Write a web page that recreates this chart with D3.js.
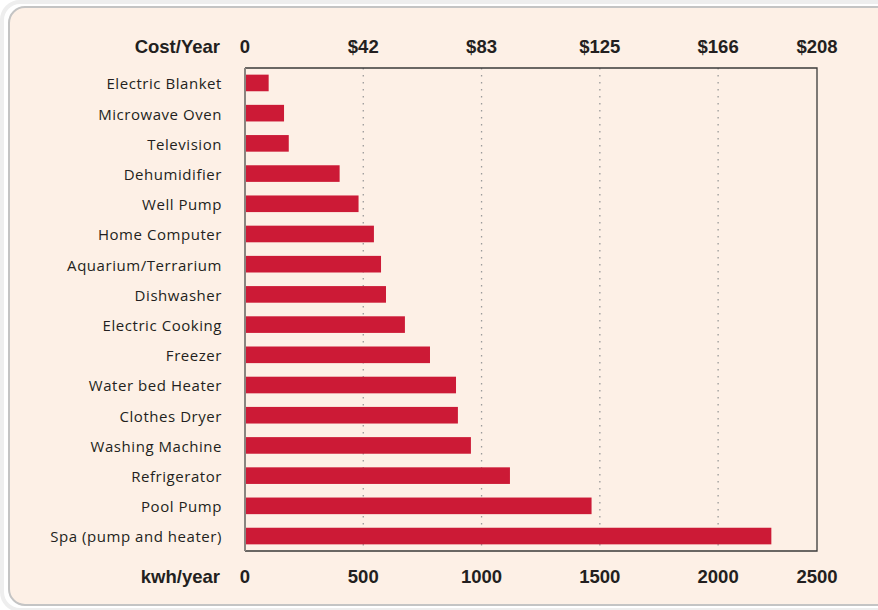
<!DOCTYPE html>
<html>
<head>
<meta charset="utf-8">
<script src="https://cdn.jsdelivr.net/npm/d3@7"></script>
<style>
  html, body { margin: 0; padding: 0; background: #ffffff; }
  svg { display: block; }
</style>
</head>
<body>
<svg id="chart" width="878" height="610"></svg>
<script>
// ---- data ----
const categories = [
  "Electric Blanket", "Microwave Oven", "Television", "Dehumidifier", "Well Pump",
  "Home Computer", "Aquarium/Terrarium", "Dishwasher", "Electric Cooking", "Freezer",
  "Water bed Heater", "Clothes Dryer", "Washing Machine", "Refrigerator", "Pool Pump",
  "Spa (pump and heater)"
];
const kwhPerYear = [100, 165, 185, 400, 480, 545, 575, 596, 676, 782, 892, 900, 955, 1120, 1465, 2225];
const kwhTicks = [0, 500, 1000, 1500, 2000, 2500];
const kwhTickLabels = ["0", "500", "1000", "1500", "2000", "2500"];
const costTickLabels = ["0", "$42", "$83", "$125", "$166", "$208"];
const gridTicks = [500, 1000, 1500, 2000];

// ---- layout ----
const svg = d3.select("#chart");
const box = { left: 245, right: 817, top: 68, bottom: 551 };

// frame
svg.append("rect")
  .attr("x", 2).attr("y", 2).attr("width", 900).attr("height", 608)
  .attr("rx", 18).attr("fill", "none").attr("stroke", "#eeeeee").attr("stroke-width", 4);
svg.append("rect")
  .attr("x", 9).attr("y", 7).attr("width", 900).attr("height", 598)
  .attr("rx", 16).attr("fill", "#fdf0e6").attr("stroke", "#c4c4c4").attr("stroke-width", 2);

const x = d3.scaleLinear().domain([0, 2418]).range([box.left, box.right]).clamp(true);
const y = d3.scaleBand().domain(categories).range([box.top, box.bottom]).paddingInner(0.45).paddingOuter(0.22);

// grid
svg.append("g").selectAll("line").data(gridTicks).join("line")
  .attr("x1", d => x(d)).attr("x2", d => x(d))
  .attr("y1", box.top).attr("y2", box.bottom)
  .attr("stroke", "#9a9a9a").attr("stroke-width", 1.3)
  .attr("stroke-dasharray", "1.5,5.5");

// bars
svg.append("g").selectAll("rect").data(categories).join("rect")
  .attr("x", box.left)
  .attr("y", d => y(d))
  .attr("width", (d, i) => x(kwhPerYear[i]) - box.left)
  .attr("height", y.bandwidth())
  .attr("fill", "#cc1a36");

// box border
svg.append("path")
  .attr("d", `M${box.left},${box.top}H${box.right}V${box.bottom}H${box.left}`)
  .attr("fill", "none").attr("stroke", "#3a3a3a").attr("stroke-width", 1.3);
svg.append("line")
  .attr("x1", box.left).attr("x2", box.left).attr("y1", box.top).attr("y2", box.bottom)
  .attr("stroke", "#8a8580").attr("stroke-width", 2);

// category labels
svg.append("g").selectAll("text").data(categories).join("text")
  .attr("x", 222)
  .attr("y", d => y(d) + y.bandwidth() / 2 + 1)
  .attr("dy", "0.36em")
  .attr("text-anchor", "end")
  .attr("font-family", "'Open Sans', 'Noto Sans', sans-serif")
  .attr("font-size", 15)
  .attr("letter-spacing", "0.55px")
  .attr("fill", "#231f20")
  .text(d => d);

const boldFont = "'Liberation Sans', Arial, sans-serif";

// top cost axis
svg.append("text").attr("x", 220).attr("y", 46).attr("dy", "0.36em")
  .attr("text-anchor", "end").attr("font-family", boldFont).attr("font-weight", "bold")
  .attr("font-size", 18.5).attr("fill", "#231f20").text("Cost/Year");
svg.append("g").selectAll("text").data(kwhTicks).join("text")
  .attr("x", d => x(d)).attr("y", 46).attr("dy", "0.36em")
  .attr("text-anchor", "middle").attr("font-family", boldFont).attr("font-weight", "bold")
  .attr("font-size", 18.5).attr("fill", "#231f20")
  .text((d, i) => costTickLabels[i]);

// bottom kwh axis
svg.append("text").attr("x", 220).attr("y", 576).attr("dy", "0.36em")
  .attr("text-anchor", "end").attr("font-family", boldFont).attr("font-weight", "bold")
  .attr("font-size", 18.5).attr("fill", "#231f20").text("kwh/year");
svg.append("g").selectAll("text").data(kwhTicks).join("text")
  .attr("x", d => x(d)).attr("y", 576).attr("dy", "0.36em")
  .attr("text-anchor", "middle").attr("font-family", boldFont).attr("font-weight", "bold")
  .attr("font-size", 18.5).attr("fill", "#231f20")
  .text((d, i) => kwhTickLabels[i]);
</script>
</body>
</html>
